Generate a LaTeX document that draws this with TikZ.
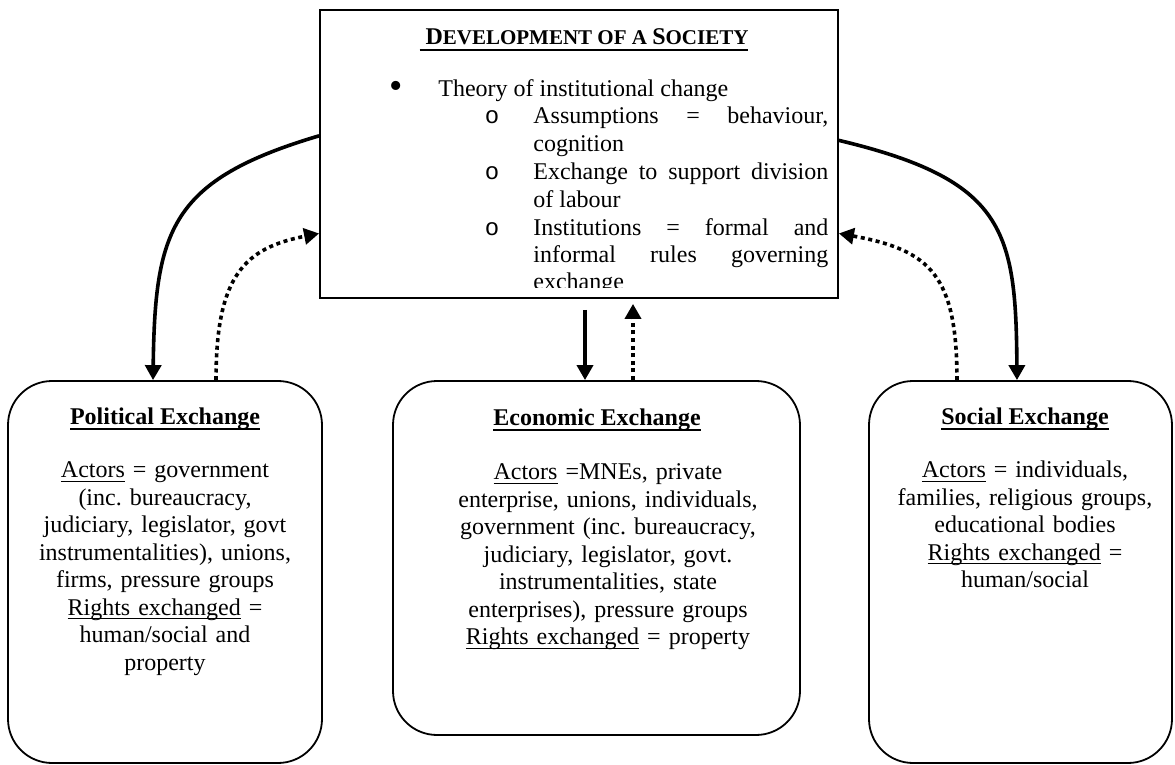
\documentclass[tikz,border=0pt]{standalone}
\usepackage{fontspec}
\setmainfont{Liberation Serif}
\newfontfamily\markfont{Liberation Mono}
\usepackage{tikz}
\usetikzlibrary{arrows.meta}

\tolerance=10000
\hyphenpenalty=10000
\frenchspacing
% underlines kept at a fixed depth (they cross descenders)
\newcommand\ulthin[1]{\leavevmode\setbox0\hbox{#1}\rlap{\rule[-1.9pt]{\wd0}{0.6pt}}\box0\relax}
\newcommand\ulbold[1]{\leavevmode\setbox0\hbox{#1}\rlap{\rule[-2.9pt]{\wd0}{1.1pt}}\box0\relax}
\newcommand\scsize{\fontsize{10.5}{12}\selectfont}

\begin{document}
\begin{tikzpicture}[x=0.5pt, y=-0.5pt,
    box/.style={draw, line width=0.9pt},
    exbox/.style={box, rounded corners=22pt},
    txt/.style={inner sep=0pt, font=\fontsize{12}{13.75}\selectfont},
    body/.style={txt, text width=#1, align=center},
    item/.style={txt, text width=147.5pt, align=justify},
    arr/.style={-{Triangle[length=7.5pt,width=8pt]}, line width=1.8pt},
    dotarr/.style={arr, dash pattern=on 2pt off 1.8pt}
  ]
  \useasboundingbox (0,0) rectangle (1175,765);

  % Top box with the theory list (last line cut off by the box).
  \node[box, minimum width=259pt, minimum height=144pt] (dev) at (579,154) {};
  \begin{scope}
    \clip (dev.north west) rectangle ([yshift=5.5pt]dev.south east);
    \node[txt, anchor=base] (devtitle) at (584,45)
      {\textbf{\ulbold{ D{\scsize EVELOPMENT OF A }S{\scsize OCIETY}}}};
    \node[txt, anchor=base, font=\fontsize{19}{20}\selectfont] (dot) at (396,99) {\textbullet};
    \node[txt, anchor=base west] (theory) at (438,97) {Theory of institutional change};
    \node[txt, anchor=base] (assumeo) at (492,124) {\markfont o};
    \node[item, anchor=base west] (assume) at (533,124) {Assumptions = behaviour, cognition};
    \node[txt, anchor=base] (labouro) at (492,180) {\markfont o};
    \node[item, anchor=base west] (labour) at (533,180) {Exchange to support division of labour};
    \node[txt, anchor=base] (ruleso) at (492,235) {\markfont o};
    \node[item, anchor=base west] (rules) at (533,235) {Institutions = formal and informal rules governing exchange};
  \end{scope}

  % Exchange boxes.
  \node[exbox, minimum width=157pt, minimum height=191pt] (pol) at (165,572) {};
  \node[exbox, minimum width=203.5pt, minimum height=177pt] (eco) at (596.5,558) {};
  \node[exbox, minimum width=151.5pt, minimum height=191pt] (soc) at (1020.5,572) {};

  \node[txt, anchor=base] (poltitle) at (165,424) {\textbf{\ulbold{Political Exchange}}};
  \node[body=150pt, anchor=base] (polbody) at (165,478)
    {\ulthin{Actors} = government\\
     (inc. bureaucracy,\\
     judiciary, legislator, govt\\
     instrumentalities), unions,\\
     firms, pressure groups\\
     \ulthin{Rights exchanged} =\\
     human/social and\\
     property};

  \node[txt, anchor=base] (ecotitle) at (597,425) {\textbf{\ulbold{Economic Exchange}}};
  \node[body=190pt, anchor=base] (ecobody) at (608,480)
    {\ulthin{Actors} =MNEs, private\\
     enterprise, unions, individuals,\\
     government (inc. bureaucracy,\\
     judiciary, legislator, govt.\\
     instrumentalities, state\\
     enterprises), pressure groups\\
     \ulthin{Rights exchanged} = property};

  \node[txt, anchor=base] (soctitle) at (1025,424) {\textbf{\ulbold{Social Exchange}}};
  \node[body=145pt, anchor=base] (socbody) at (1025,478)
    {\ulthin{Actors} = individuals,\\
     families, religious groups,\\
     educational bodies\\
     \ulthin{Rights exchanged} =\\
     human/social};

  % Down (solid) and back up (dotted).
  \draw[arr] (dev.176.5) .. controls (170,180) and (155,230) .. ([xshift=-6pt]pol.north);
  \draw[dotarr] ([xshift=25.5pt]pol.north) .. controls (216,275) and (245,248) .. (dev.197.4);
  \draw[arr] ([xshift=3pt,yshift=-5.5pt]dev.south) -- ([xshift=-5.75pt]eco.north);
  \draw[dotarr] ([xshift=18.25pt]eco.north) -- ([xshift=27pt,yshift=-2.5pt]dev.south);
  \draw[arr] (dev.3.5) .. controls (1005,180) and (1016,230) .. ([xshift=-1.75pt]soc.north);
  \draw[dotarr] ([xshift=-31.75pt]soc.north) .. controls (957,275) and (930,250) .. (dev.-17.8);
\end{tikzpicture}
\end{document}
